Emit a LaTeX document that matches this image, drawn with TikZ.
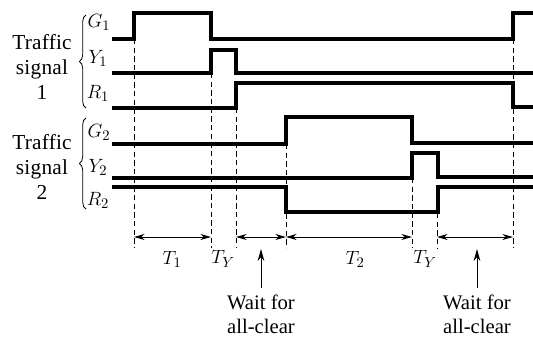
\documentclass[tikz,border=0pt]{standalone}
\usepackage{fontspec}
\setmainfont{Liberation Serif}
\usetikzlibrary{arrows.meta,decorations.pathreplacing}

\begin{document}
\begin{tikzpicture}[x=0.75pt,y=-0.75pt,
  signal/.style={line width=2.8pt},
  marker/.style={line width=0.6pt, dash pattern=on 4pt off 2.5pt},
  span/.style={{Stealth[length=8pt,width=4.5pt]}-{Stealth[length=8pt,width=4.5pt]}, line width=0.7pt},
  pointer/.style={-{Stealth[length=9pt,width=5pt]}, line width=0.7pt, shorten <=5pt},
  lbl/.style={font=\fontsize{15.5}{18}\selectfont},
  side/.style={font=\fontsize{16}{19}\selectfont\addfontfeatures{LetterSpace=1}, align=center},
  curly/.style={decorate, decoration={brace, amplitude=5pt}, line width=0.6pt},
]
\useasboundingbox (0,0) rectangle (533,337);

  % Time marks
  \foreach \n/\x/\y in {a/134/39, b/211/73, c/236/108, d/286/144, e/412/178, f/437/187, g/513/39} {
    \coordinate (top-\n) at (\x,\y);
    \coordinate (bot-\n) at (\x,248);
    \coordinate (arr-\n) at (\x,237);
    \draw[marker] (top-\n) -- (bot-\n);
  }

  % Signal 1
  \draw[signal] (112,39) -- (134,39) -- (134,13) -- (211,13) -- (211,39) -- (513,39) -- (513,13) -- (533,13);
  \draw[signal] (112,73) -- (211,73) -- (211,50) -- (236,50) -- (236,73) -- (533,73);
  \draw[signal] (112,108) -- (236,108) -- (236,83) -- (513,83) -- (513,107) -- (533,107);

  % Signal 2
  \draw[signal] (112,144) -- (286,144) -- (286,117) -- (412,117) -- (412,143) -- (533,143);
  \draw[signal] (112,178) -- (412,178) -- (412,153) -- (438,153) -- (438,177) -- (533,177);
  \draw[signal] (112,187) -- (286,187) -- (286,212) -- (438,212) -- (438,187) -- (533,187);

  % Labels
  \node[side] (sig1) at (42,67) {Traffic\\signal\\1};
  \node[side] (sig2) at (42,167) {Traffic\\signal\\2};
  \draw[curly] (86,108) -- (86,15);
  \draw[curly] (86,209) -- (86,118);

  \node[lbl] (g1) at (99,22) {$G_1$};
  \node[lbl] (y1) at (98,58) {$Y_1$};
  \node[lbl] (r1) at (98,93) {$R_1$};
  \node[lbl] (g2) at (99,132) {$G_2$};
  \node[lbl] (y2) at (98,167) {$Y_2$};
  \node[lbl] (r2) at (98,200) {$R_2$};

  % Intervals
  \draw[span] (arr-a) -- (arr-b);
  \draw[span] (arr-c) -- (arr-d);
  \draw[span] (arr-d) -- (arr-e);
  \draw[span] (arr-f) -- (arr-g);

  \node[lbl] (t1) at (172,259) {$T_1$};
  \node[lbl] (ty1) at (223,259) {$T_Y$};
  \node[lbl] (t2) at (355,259) {$T_2$};
  \node[lbl] (ty2) at (425,259) {$T_Y$};

  \coordinate (tip1) at (261,249);
  \coordinate (tip2) at (477,249);
  \node[lbl, align=center, anchor=south, inner sep=0pt] (wait1) at (261,334) {Wait for\\all-clear};
  \node[lbl, align=center, anchor=south, inner sep=0pt] (wait2) at (477,334) {Wait for\\all-clear};
  \draw[pointer] (wait1.north) -- (tip1);
  \draw[pointer] (wait2.north) -- (tip2);
\end{tikzpicture}
\end{document}
